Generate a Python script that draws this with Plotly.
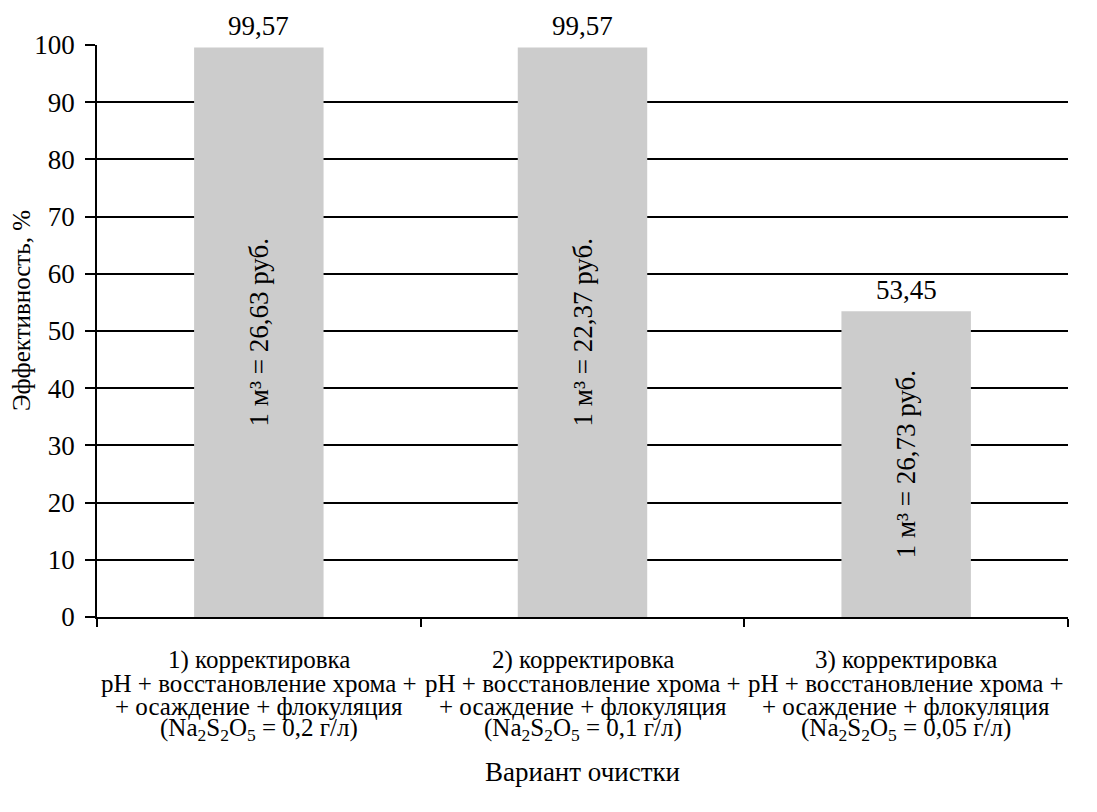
import plotly.graph_objects as go

categories = ["Вариант 1", "Вариант 2", "Вариант 3"]
category_lines = [
    ["1) корректировка", "pH + восстановление хрома +", "+ осаждение + флокуляция", "(Na<sub>2</sub>S<sub>2</sub>O<sub>5</sub> = 0,2 г/л)"],
    ["2) корректировка", "pH + восстановление хрома +", "+ осаждение + флокуляция", "(Na<sub>2</sub>S<sub>2</sub>O<sub>5</sub> = 0,1 г/л)"],
    ["3) корректировка", "pH + восстановление хрома +", "+ осаждение + флокуляция", "(Na<sub>2</sub>S<sub>2</sub>O<sub>5</sub> = 0,05 г/л)"],
]
efficiency = [99.57, 99.57, 53.45]
value_labels = ["99,57", "99,57", "53,45"]
cost_labels = ["1 м³ = 26,63 руб.", "1 м³ = 22,37 руб.", "1 м³ = 26,73 руб."]
y_ticks = [0, 10, 20, 30, 40, 50, 60, 70, 80, 90, 100]
x_title = "Вариант очистки"
y_title = "Эффективность, %"

FONT = "Times New Roman"

fig = go.Figure()
fig.add_trace(go.Bar(
    x=categories,
    y=efficiency,
    width=0.4,
    marker=dict(color="#cccccc", line=dict(width=0)),
    text=cost_labels,
    textposition="inside",
    insidetextanchor="middle",
    textangle=-90,
    textfont=dict(family=FONT, size=27, color="black"),
    constraintext="none",
    showlegend=False,
))

for c, v, lab in zip(categories, efficiency, value_labels):
    fig.add_annotation(x=c, y=v, text=lab, showarrow=False, yanchor="bottom",
                       yshift=4, font=dict(family=FONT, size=27, color="black"))

for c, lines in zip(categories, category_lines):
    for i, line in enumerate(lines):
        fig.add_annotation(x=c, xref="x", y=-0.076 - i * 0.0405, yref="paper", text=line,
                           showarrow=False, yanchor="middle",
                           font=dict(family=FONT, size=25, color="black"))

fig.add_annotation(x=-0.0772, xref="paper", y=0.535, yref="paper", text=y_title,
                   textangle=-90, showarrow=False, xanchor="center", yanchor="middle",
                   font=dict(family=FONT, size=25, color="black"))

fig.update_layout(
    width=1097, height=812,
    margin=dict(l=97, r=29, t=45, b=195),
    plot_bgcolor="white", paper_bgcolor="white",
    font=dict(family=FONT, size=24, color="black"),
    bargap=0.6,
)
fig.update_xaxes(
    type="category",
    showline=True, linecolor="black", linewidth=1.5,
    ticks="outside", tickson="boundaries", ticklen=8, tickcolor="black", tickwidth=1.5,
    showticklabels=False,
    title=dict(text=x_title, font=dict(family=FONT, size=27, color="black"), standoff=144),
    showgrid=False,
)
fig.update_yaxes(
    range=[0, 100], tickvals=y_ticks,
    showline=True, linecolor="black", linewidth=1.5,
    ticks="outside", ticklen=10, tickcolor="black", tickwidth=1.5,
    ticklabelstandoff=5,
    tickfont=dict(family=FONT, size=27, color="black"),
    showgrid=True, gridcolor="black", gridwidth=1.5,
    zeroline=False,
)

fig.write_html("out.html")
